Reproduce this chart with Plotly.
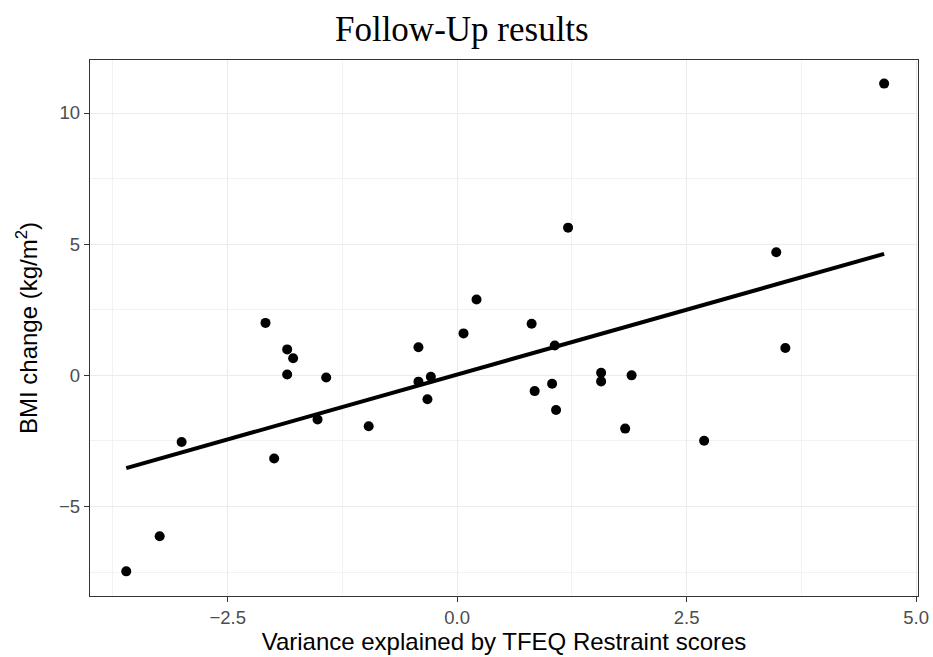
import numpy as np
import plotly.graph_objects as go

restraint_var = [-3.605, -3.241, -3.002, -2.088, -1.994, -1.852, -1.787, -1.852, -1.427, -1.521,
                 -0.964, -0.422, -0.422, -0.287, -0.324, 0.069, 0.211, 0.811, 0.844, 1.034,
                 1.063, 1.077, 1.208, 1.568, 1.568, 1.90, 1.83, 2.69, 3.476, 3.575, 4.651]
bmi_change = [-7.47, -6.13, -2.54, 2.00, -3.17, 0.99, 0.65, 0.03, -0.08, -1.68,
              -1.94, 1.07, -0.24, -0.05, -0.91, 1.60, 2.89, 1.97, -0.60, -0.32,
              1.14, -1.32, 5.63, 0.10, -0.23, 0.00, -2.03, -2.49, 4.69, 1.04, 11.12]

x_tickvals = [-2.5, 0.0, 2.5, 5.0]
x_ticktext = ["\u22122.5", "0.0", "2.5", "5.0"]
x_minor = [-3.75, -1.25, 1.25, 3.75]
y_tickvals = [-5, 0, 5, 10]
y_ticktext = ["\u22125", "0", "5", "10"]
y_minor = [-7.5, -2.5, 2.5, 7.5]

xa = np.array(restraint_var)
ya = np.array(bmi_change)
slope, intercept = np.polyfit(xa, ya, 1)
xfit = np.array([xa.min(), xa.max()])
yfit = slope * xfit + intercept

fig = go.Figure()
fig.add_trace(go.Scatter(x=restraint_var, y=bmi_change, mode="markers",
                         marker=dict(color="black", size=10), showlegend=False))
fig.add_trace(go.Scatter(x=xfit, y=yfit, mode="lines",
                         line=dict(color="black", width=4), showlegend=False))

axis_common = dict(
    showline=True, linecolor="#333333", linewidth=1.3, mirror=True,
    ticks="outside", ticklen=5, tickcolor="#333333", tickwidth=1.2,
    gridcolor="#EBEBEB", gridwidth=1.3, zeroline=False, automargin=False,
    ticklabeloverflow="allow",
    tickfont=dict(family="Liberation Sans", size=18.5, color="#4D4D4D"),
)

fig.update_layout(
    width=933, height=657,
    margin=dict(l=90, r=15, t=60, b=61),
    paper_bgcolor="white", plot_bgcolor="white",
    title=dict(text="Follow-Up results", x=0.495, xanchor="center", y=0.957, yanchor="middle",
               font=dict(family="Liberation Serif", size=35, color="black")),
    xaxis=dict(range=[-4.0, 5.02], tickvals=x_tickvals, ticktext=x_ticktext,
               minor=dict(tickvals=x_minor, showgrid=True, gridcolor="#F2F2F2", gridwidth=0.7),
               title=dict(text="Variance explained by TFEQ Restraint scores", standoff=2,
                          font=dict(family="Liberation Sans", size=24, color="black")),
               **axis_common),
    yaxis=dict(range=[-8.41, 12.02], tickvals=y_tickvals, ticktext=y_ticktext,
               minor=dict(tickvals=y_minor, showgrid=True, gridcolor="#F2F2F2", gridwidth=0.7),
               title=dict(text="BMI change (kg/m<sup>2</sup>)", standoff=14,
                          font=dict(family="Liberation Sans", size=24, color="black")),
               **axis_common),
)

fig.write_html("out.html", config={"displayModeBar": False},
               post_script="document.body.style.margin='0px';")
